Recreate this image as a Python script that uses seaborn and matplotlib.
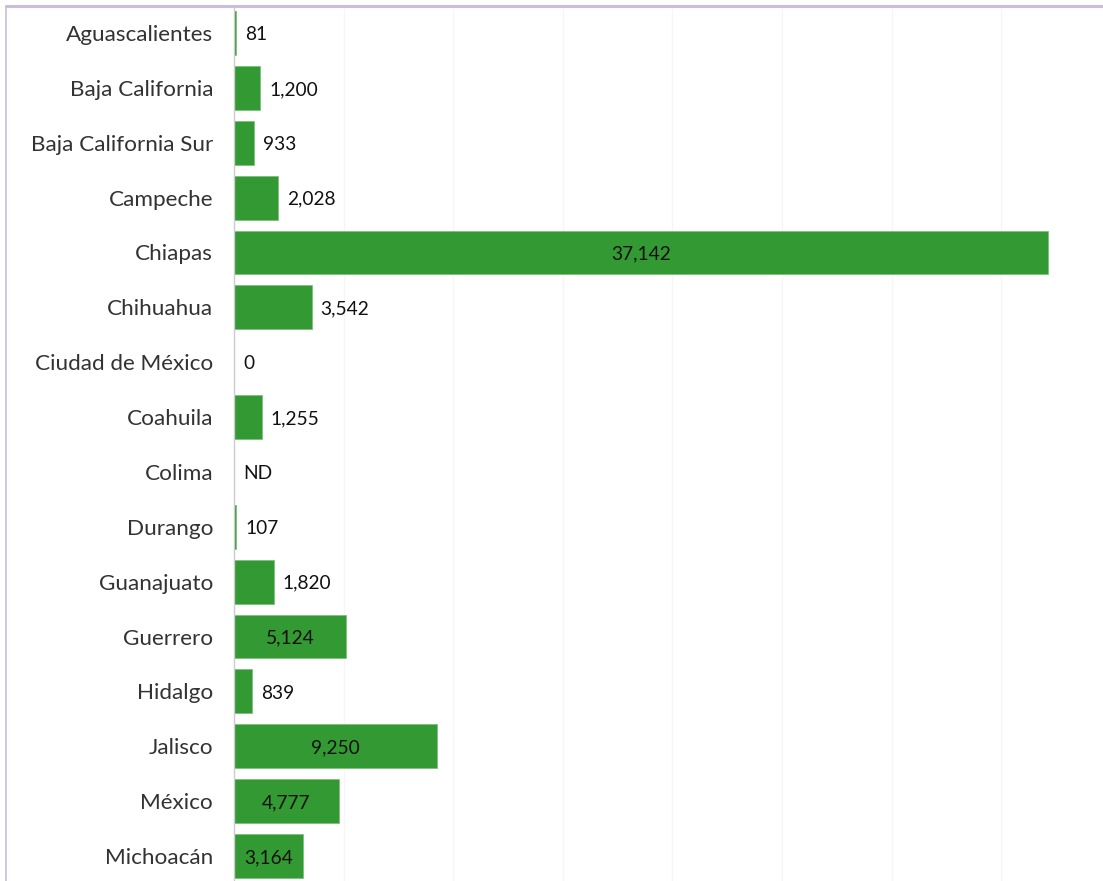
import matplotlib
matplotlib.use("Agg")
import matplotlib.pyplot as plt
import seaborn as sns
import numpy as np
import pandas as pd
from matplotlib.lines import Line2D

states = ["Aguascalientes", "Baja California", "Baja California Sur", "Campeche",
          "Chiapas", "Chihuahua", "Ciudad de México", "Coahuila", "Colima",
          "Durango", "Guanajuato", "Guerrero", "Hidalgo", "Jalisco", "México",
          "Michoacán"]
values = [81, 1200, 933, 2028, 37142, 3542, 0, 1255, np.nan,
          107, 1820, 5124, 839, 9250, 4777, 3164]
labels = ["81", "1,200", "933", "2,028", "37,142", "3,542", "0", "1,255", "ND",
          "107", "1,820", "5,124", "839", "9,250", "4,777", "3,164"]
inside = ["Chiapas", "Guerrero", "Jalisco", "México", "Michoacán"]

df = pd.DataFrame({"state": states, "value": values})

sns.set_theme(style="white")
plt.rcParams["font.family"] = ["Lato", "DejaVu Sans"]

fig = plt.figure(figsize=(11.03, 8.81), dpi=100)
ax = fig.add_axes([234 / 1103, 0, 1 - 234 / 1103, 1 - 8 / 881])

sns.barplot(data=df, y="state", x="value", orient="h", color="#339933",
            saturation=1, width=0.8, ax=ax, edgecolor="#7fbf7f", linewidth=0.6)

ax.set_xlim(0, 39650)
ax.set_ylim(len(states) - 0.545, -0.455)
ax.set_xticks(np.arange(0, 40000, 5000))
ax.xaxis.grid(True, color="#f6f6f6", linewidth=1)
ax.set_axisbelow(True)
ax.set_xticklabels([])
ax.tick_params(axis="x", length=0)
ax.tick_params(axis="y", length=0, pad=15, labelsize=16.2, labelcolor="#333333")
ax.set_xlabel("")
ax.set_ylabel("")
for s in ["top", "right", "bottom"]:
    ax.spines[s].set_visible(False)
ax.spines["left"].set_color("#cccccc")
ax.spines["left"].set_linewidth(1)

for i, (st, v, lab) in enumerate(zip(states, values, labels)):
    if st in inside:
        ax.text(v / 2, i + 0.03, lab, ha="center", va="center", fontsize=13.8,
                color="#111111")
    else:
        x = 0 if np.isnan(v) else v
        ax.annotate(lab, (x, i + 0.03), xytext=(6.5, 0), textcoords="offset points",
                    ha="left", va="center", fontsize=13.8, color="#111111")

# purple frame (top and left)
fig.add_artist(Line2D([6 / 1103, 1], [1 - 6 / 881, 1 - 6 / 881],
                      transform=fig.transFigure, color="#c9bedd", linewidth=2.2))
fig.add_artist(Line2D([6 / 1103, 6 / 1103], [0, 1 - 6 / 881],
                      transform=fig.transFigure, color="#c9bedd", linewidth=1.2))

fig.savefig("out.png", dpi=100)
